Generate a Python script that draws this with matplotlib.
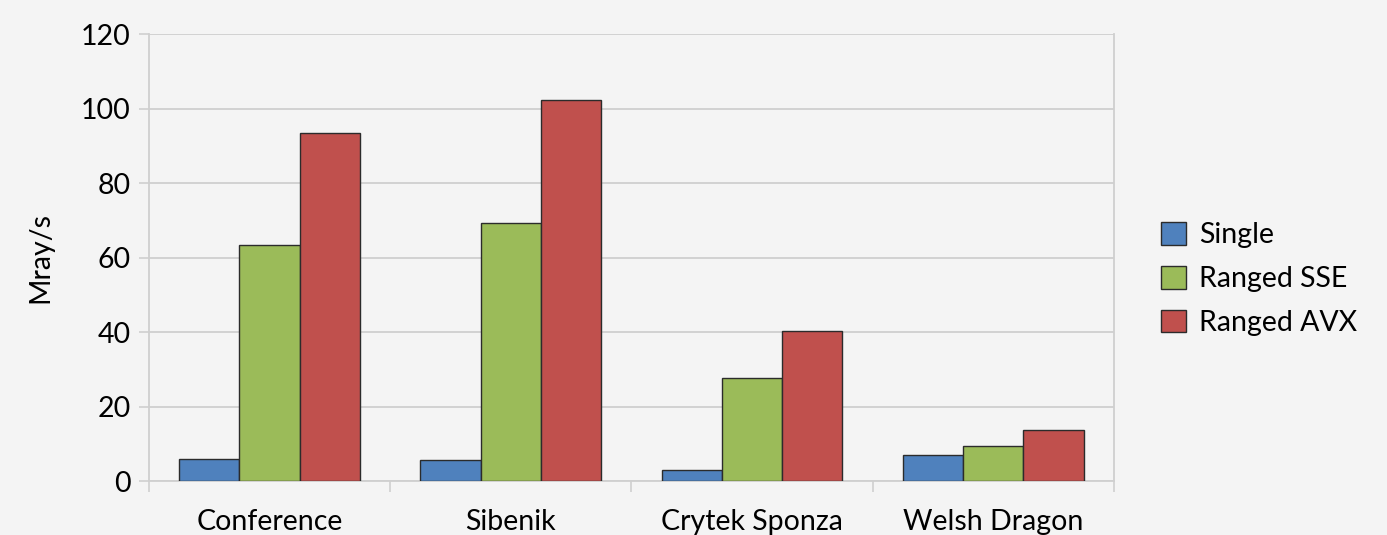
import numpy as np
import matplotlib
matplotlib.use("Agg")
import matplotlib.pyplot as plt
from matplotlib.patches import Patch

# data
scenes = ["Conference", "Sibenik", "Crytek Sponza", "Welsh Dragon"]
single = [5.9, 5.6, 3.0, 7.0]
ranged_sse = [63.4, 69.3, 27.7, 9.5]
ranged_avx = [93.4, 102.3, 40.3, 13.8]
series_names = ["Single", "Ranged SSE", "Ranged AVX"]
colors = ["#4f81bd", "#9bbb59", "#c0504d"]
yticks = [0, 20, 40, 60, 80, 100, 120]

plt.rcParams['font.family'] = ['Lato', 'DejaVu Sans']
bg = "#f4f4f4"
grid_c = "#cfcfcf"
fs = 20.5

fig = plt.figure(figsize=(13.87, 5.35), dpi=100, facecolor=bg)
ax = fig.add_axes([0.1074, 0.1009, 0.803 - 0.1074, 0.9364 - 0.1009])
ax.set_facecolor(bg)

x = np.arange(len(scenes))
w = 0.25
for i, vals in enumerate([single, ranged_sse, ranged_avx]):
	ax.bar(x + (i - 1) * w, vals, width=w, color=colors[i], edgecolor="#2b2b2b",
		linewidth=1.0, zorder=3, label=series_names[i])

ax.set_xlim(-0.5, len(scenes) - 0.5)
ax.set_ylim(0, 120)
ax.set_yticks(yticks)
ax.yaxis.grid(True, color=grid_c, linewidth=1.3, zorder=0)
ax.tick_params(axis='y', length=7, width=1.2, color=grid_c, labelsize=fs, pad=6)

ax.set_xticks(x)
ax.set_xticklabels(scenes)
ax.tick_params(axis='x', which='major', length=0, labelsize=fs, pad=20)
ax.set_xticks(np.arange(-0.5, len(scenes)), minor=True)
ax.tick_params(axis='x', which='minor', length=8, width=1.2, color=grid_c, direction='out')

for s in ["left", "right", "bottom"]:
	ax.spines[s].set_color(grid_c)
	ax.spines[s].set_linewidth(1.3)
ax.spines["top"].set_visible(False)

ax.set_ylabel("Mray/s", fontsize=fs, labelpad=20)

handles = [Patch(facecolor=colors[i], edgecolor="#2b2b2b", label=series_names[i]) for i in range(3)]
fig.legend(handles=handles, loc="center left", bbox_to_anchor=(1161 / 1387, 1 - 279 / 535), frameon=False,
	fontsize=fs, handlelength=0.88, handleheight=0.85, labelspacing=0.62, handletextpad=0.45,
	borderpad=0, borderaxespad=0)

fig.savefig("out.png", dpi=100, facecolor=bg)
